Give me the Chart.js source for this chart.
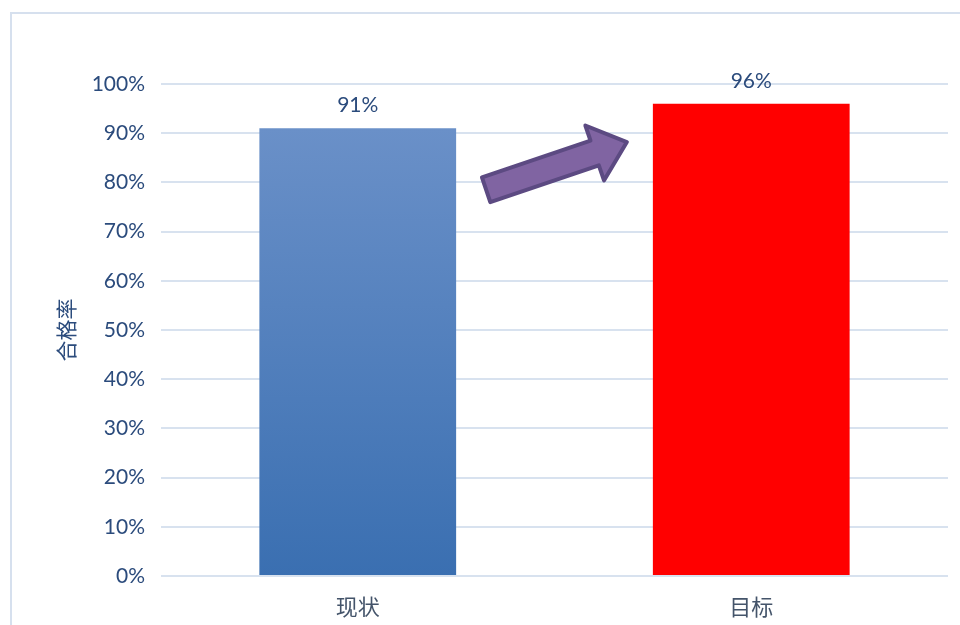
<!DOCTYPE html>
<html>
<head>
<meta charset="utf-8">
<script src="https://cdn.jsdelivr.net/npm/chart.js@4/dist/chart.umd.min.js"></script>
<style>
  html, body { margin: 0; padding: 0; background: #ffffff; }
  #wrap { width: 960px; height: 625px; position: relative; }
</style>
</head>
<body>
<div id="wrap"><canvas id="c" width="960" height="625"></canvas></div>
<script>
// ---- data ----
const categories = ['现状', '目标'];
const rateValues = [91, 96];           // 合格率 (%)
const yTicksMin = 0;
const yTicksMax = 100;
const yTickStep = 10;
const axisTitle = '合格率';
// arrow annotation (value-space y positions, from current to target)
const arrowFromValue = 78.5;
const arrowToValue = 88.2;

const tickColor = '#2b4b7c';
const gridColor = '#d8e2ef';

const framePlugin = {
  id: 'frame',
  beforeDraw(chart) {
    const c = chart.ctx;
    c.save();
    c.fillStyle = '#ffffff';
    c.fillRect(0, 0, chart.width, chart.height);
    c.strokeStyle = '#d6e0ee';
    c.lineWidth = 2;
    c.beginPath();
    c.moveTo(11, chart.height + 5);
    c.lineTo(11, 13);
    c.lineTo(chart.width + 5, 13);
    c.stroke();
    c.restore();
  }
};

const labelsPlugin = {
  id: 'valueLabels',
  afterDatasetsDraw(chart) {
    const c = chart.ctx;
    const meta = chart.getDatasetMeta(0);
    c.save();
    c.font = '21px Lato, "Liberation Sans", sans-serif';
    c.fillStyle = tickColor;
    c.textAlign = 'center';
    c.textBaseline = 'alphabetic';
    meta.data.forEach((bar, i) => {
      c.fillText(rateValues[i] + '%', bar.x, bar.y - 16);
    });
    c.restore();
  }
};

const arrowPlugin = {
  id: 'arrow',
  afterDatasetsDraw(chart) {
    const meta = chart.getDatasetMeta(0);
    const b1 = meta.data[0], b2 = meta.data[1];
    const y = chart.scales.y;
    const x0 = b1.x + b1.width / 2 + 30;
    const y0 = y.getPixelForValue(arrowFromValue);
    const x1 = b2.x - b2.width / 2 - 26;
    const y1 = y.getPixelForValue(arrowToValue);
    const dx = x1 - x0, dy = y1 - y0;
    const len = Math.sqrt(dx * dx + dy * dy);
    const ang = Math.atan2(dy, dx);
    const shaftHalf = 13, headHalf = 29, headLen = 34;
    const c = chart.ctx;
    c.save();
    c.translate(x0, y0);
    c.rotate(ang);
    c.beginPath();
    c.moveTo(0, -shaftHalf);
    c.lineTo(len - headLen, -shaftHalf);
    c.lineTo(len - headLen, -headHalf);
    c.lineTo(len, 0);
    c.lineTo(len - headLen, headHalf);
    c.lineTo(len - headLen, shaftHalf);
    c.lineTo(0, shaftHalf);
    c.closePath();
    c.fillStyle = '#8064a2';
    c.fill();
    c.lineJoin = 'round';
    c.lineWidth = 4;
    c.strokeStyle = '#5c4a82';
    c.stroke();
    c.restore();
  }
};

new Chart(document.getElementById('c'), {
  type: 'bar',
  data: {
    labels: categories,
    datasets: [{
      data: rateValues,
      backgroundColor(ctx) {
        if (ctx.dataIndex === 1) return '#ff0000';
        const chart = ctx.chart;
        const area = chart.chartArea;
        if (!area) return '#5080c0';
        const g = chart.ctx.createLinearGradient(0, area.bottom, 0, chart.scales.y.getPixelForValue(rateValues[0]));
        g.addColorStop(0, '#3a6fb1');
        g.addColorStop(1, '#6a90c8');
        return g;
      },
      borderWidth: 0,
      barPercentage: 0.5,
      categoryPercentage: 1.0
    }]
  },
  options: {
    responsive: false,
    animation: false,
    devicePixelRatio: 1,
    layout: { padding: { left: 53, right: 12, top: 84, bottom: 0 } },
    plugins: {
      legend: { display: false },
      tooltip: { enabled: false }
    },
    scales: {
      x: {
        grid: { display: false, drawTicks: false },
        border: { display: false },
        ticks: {
          color: '#44546a',
          font: { size: 22, family: '"Noto Sans CJK SC", sans-serif' },
          padding: 17
        },
        afterFit(scale) { scale.height = 49; }
      },
      y: {
        min: yTicksMin,
        max: yTicksMax,
        ticks: {
          stepSize: yTickStep,
          color: tickColor,
          font: { size: 21, family: 'Lato, "Liberation Sans", sans-serif' },
          padding: 16,
          callback: v => v + '%'
        },
        grid: {
          color: gridColor,
          lineWidth: 2,
          drawTicks: false
        },
        border: { display: false },
        title: {
          display: true,
          text: axisTitle,
          color: '#2b4b7c',
          font: { size: 21, family: '"Noto Sans CJK SC", sans-serif' },
          padding: 0
        },
        afterFit(scale) { scale.width = 161 - 53; }
      }
    }
  },
  plugins: [framePlugin, labelsPlugin, arrowPlugin]
});
</script>
</body>
</html>
